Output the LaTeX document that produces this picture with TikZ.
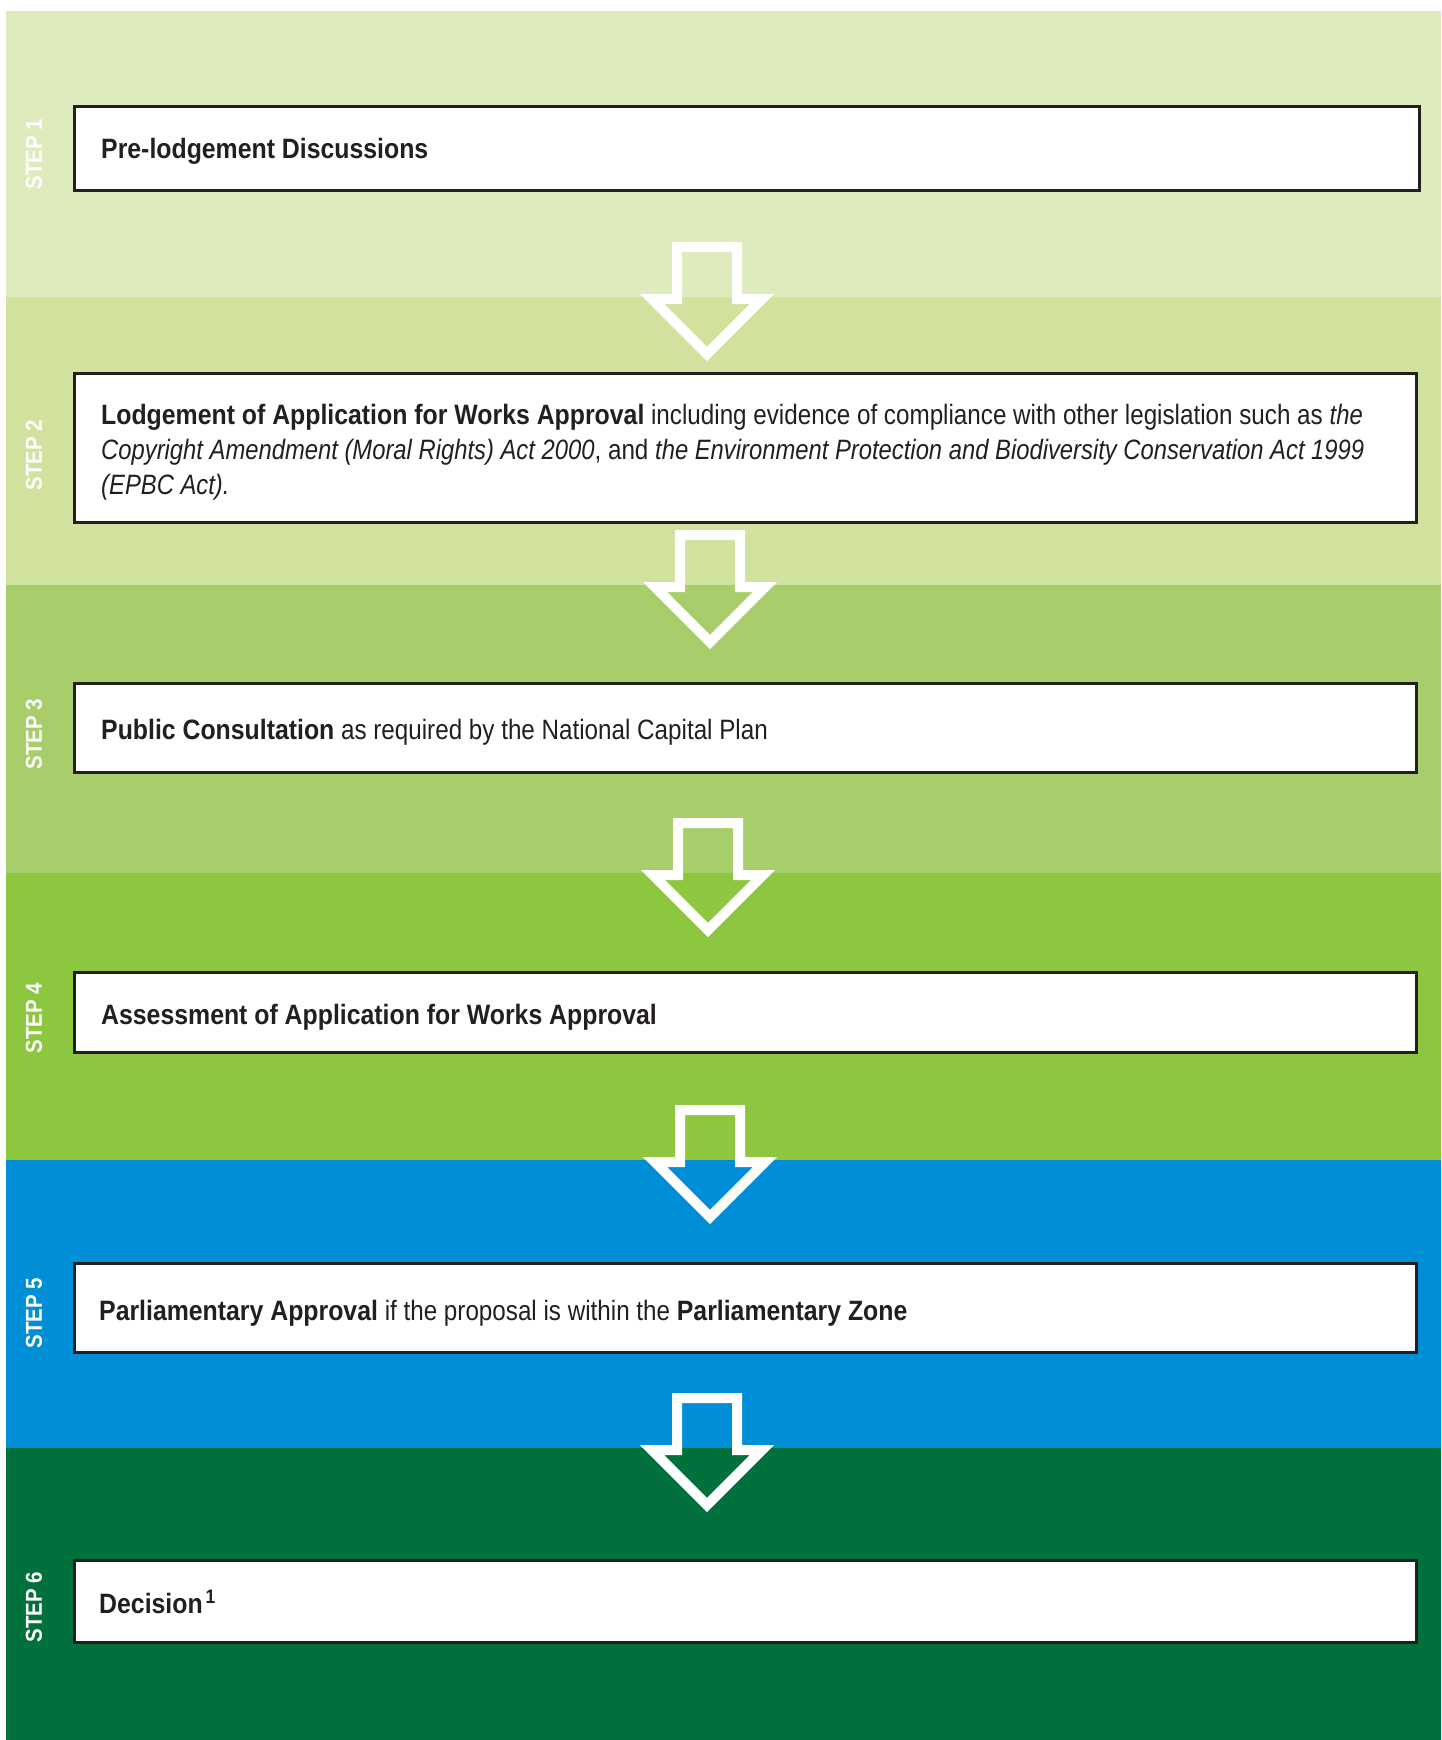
\documentclass[tikz,border=0pt]{standalone}
\usepackage{fontspec}
\usetikzlibrary{calc}
\setmainfont{Liberation Sans}[UprightFeatures={FakeStretch=0.865},BoldFeatures={FakeStretch=0.887},ItalicFeatures={FakeStretch=0.85},BoldItalicFeatures={FakeStretch=0.86}]
\newfontfamily\stepfont{Liberation Sans}[FakeStretch=0.89]
\definecolor{bandA}{RGB}{222,235,189}
\definecolor{bandB}{RGB}{208,226,158}
\definecolor{bandC}{RGB}{168,206,108}
\definecolor{bandD}{RGB}{141,198,63}
\definecolor{bandE}{RGB}{0,142,214}
\definecolor{bandF}{RGB}{0,112,60}
\definecolor{ink}{RGB}{35,31,32}
\begin{document}
\begin{tikzpicture}[x=1pt,y=-1pt,
  stepbox/.style={draw=ink,line width=3pt,fill=white,anchor=north west,inner sep=0pt},
  steplabel/.style={rotate=90,text=white,inner sep=0pt,font=\stepfont\bfseries\fontsize{23}{26}\selectfont},
  boxtext/.style={anchor=base west,inner sep=0pt,text=ink,font=\fontsize{28}{35}\selectfont},
  arrowline/.style={draw=white,line width=10pt,line join=miter}]
\useasboundingbox (0,0) rectangle (1441,1740);
\fill[white] (0,0) rectangle (1441,1740);
% bands
\fill[bandA] (6,11) rectangle (1441,297);
\fill[bandB] (6,297) rectangle (1441,585);
\fill[bandC] (6,585) rectangle (1441,873);
\fill[bandD] (6,873) rectangle (1441,1160);
\fill[bandE] (6,1160) rectangle (1441,1448);
\fill[bandF] (6,1448) rectangle (1441,1740);
% arrows
\foreach \cx/\yb/\nm in {707/297/a1,710/585/a2,708/873/a3,710/1160/a4,707/1448/a5}{
  \coordinate (\nm) at (\cx,\yb);
  \draw[arrowline] ($(\nm)+(-30,-50)$) -- ($(\nm)+(30,-50)$) -- ($(\nm)+(30,2)$) -- ($(\nm)+(55,2)$)
     -- ($(\nm)+(0,57)$) -- ($(\nm)+(-55,2)$) -- ($(\nm)+(-30,2)$) -- cycle;
}
% boxes
\node[stepbox,minimum width=1345pt,minimum height=84pt] (b1) at (73,105) {};
\node[stepbox,minimum width=1342pt,minimum height=149pt] (b2) at (73,372) {};
\node[stepbox,minimum width=1342pt,minimum height=89pt] (b3) at (73,682) {};
\node[stepbox,minimum width=1342pt,minimum height=80pt] (b4) at (73,971) {};
\node[stepbox,minimum width=1342pt,minimum height=89pt] (b5) at (73,1262) {};
\node[stepbox,minimum width=1342pt,minimum height=82pt] (b6) at (73,1559) {};
% step labels
\node[steplabel] (s1) at (34,154) {STEP 1};
\node[steplabel] (s2) at (34,455) {STEP 2};
\node[steplabel] (s3) at (34,734) {STEP 3};
\node[steplabel] (s4) at (34,1018) {STEP 4};
\node[steplabel] (s5) at (34,1313) {STEP 5};
\node[steplabel] (s6) at (34,1607) {STEP 6};
% texts
\node[boxtext] (t1) at (101,158.5) {\textbf{Pre-lodgement Discussions}};
\node[boxtext] (t2a) at (101,424) {\textbf{Lodgement of Application for Works Approval} including evidence of compliance with other legislation such as \textit{the}};
\node[boxtext] (t2b) at (101,459) {\textit{Copyright Amendment (Moral Rights) Act 2000}, and \textit{the Environment Protection and Biodiversity Conservation Act 1999}};
\node[boxtext] (t2c) at (101,494) {\textit{(EPBC Act).}};
\node[boxtext] (t3) at (101,739) {\textbf{Public Consultation} as required by the National Capital Plan};
\node[boxtext] (t4) at (101,1024.5) {\textbf{Assessment of Application for Works Approval}};
\node[boxtext] (t5) at (99,1320) {\textbf{Parliamentary Approval} if the proposal is within the \textbf{Parliamentary Zone}};
\node[boxtext] (t6) at (99,1613) {\textbf{Decision}\kern3pt\textsuperscript{\textbf{1}}};
\end{tikzpicture}
\end{document}
